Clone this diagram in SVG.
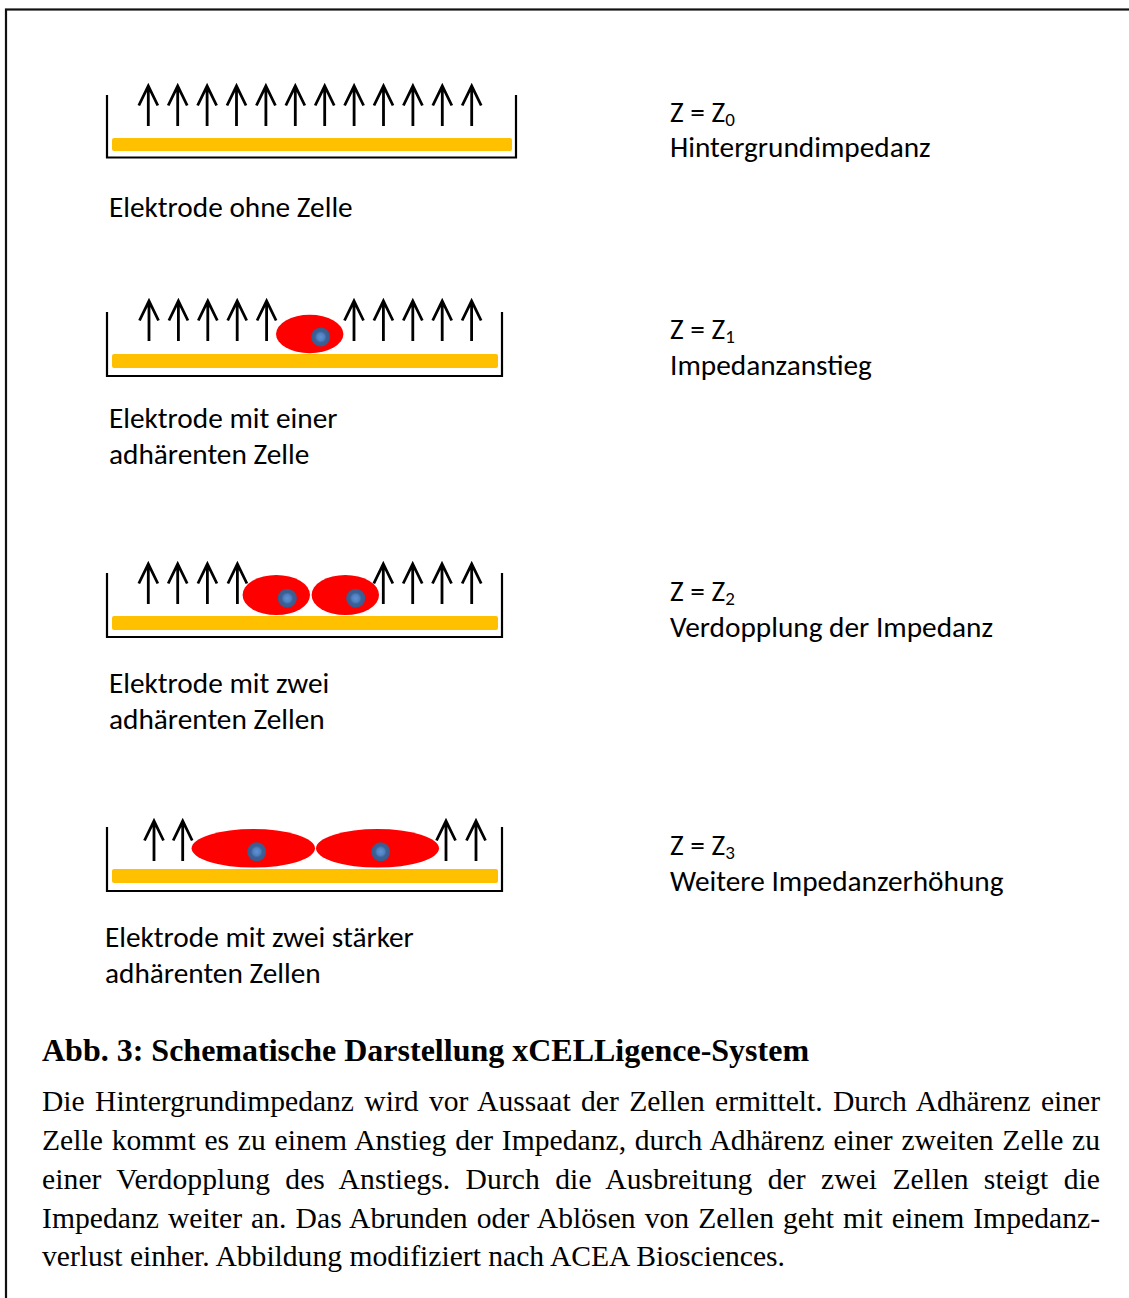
<svg xmlns="http://www.w3.org/2000/svg" xmlns:xlink="http://www.w3.org/1999/xlink" width="1129" height="1298" viewBox="0 0 1129 1298">
  <style>
    .frame { fill: none; stroke: #111; stroke-width: 2.2; }
    .well { fill: none; stroke: #000; stroke-width: 2.2; }
    .electrode { fill: #FFC000; }
    .field { fill: none; stroke: #000; stroke-width: 2.8; stroke-linecap: butt; stroke-linejoin: miter; }
    .cell { fill: #FF0000; filter: url(#soft); }
    .nucleus { fill: url(#nuc); }
    .lbl { font-family: Carlito, Lato, "Noto Sans", sans-serif; font-size: 29.3px; fill: #000; }
    .sub { font-size: 19px; }
    .title { font-family: "Liberation Serif", "Times New Roman", serif; font-weight: bold; font-size: 32px; fill: #000; }
    .body { font-family: "Liberation Serif", "Times New Roman", serif; font-size: 29.6px; fill: #000; }
  </style>
  <defs>
    <!-- field line: open arrow, origin at the shaft foot -->
    <path id="arr" class="field" d="M0,0 V-40 M-9.5,-20.5 L0,-40 L9.5,-20.5"/>
    <radialGradient id="nuc" cx="0.5" cy="0.5" r="0.5">
      <stop offset="0" stop-color="#5E92D6"/>
      <stop offset="0.4" stop-color="#4F7FBF"/>
      <stop offset="0.6" stop-color="#3D6197"/>
      <stop offset="1" stop-color="#3A5A8C"/>
    </radialGradient>
    <filter id="soft" x="-10%" y="-20%" width="120%" height="140%">
      <feGaussianBlur stdDeviation="0.7"/>
    </filter>
  </defs>

  <!-- outer frame -->
  <rect class="frame" x="6" y="9.5" width="1140" height="1300"/>

  <!-- 1: bare electrode -->
  <g id="panel-empty">
    <path class="well" d="M107,95 V157.5 H516 V95"/>
    <rect class="electrode" x="112" y="138" width="400" height="13" rx="2"/>
    <use xlink:href="#arr" x="148.3" y="126"/>
    <use xlink:href="#arr" x="177.7" y="126"/>
    <use xlink:href="#arr" x="207.1" y="126"/>
    <use xlink:href="#arr" x="236.5" y="126"/>
    <use xlink:href="#arr" x="265.9" y="126"/>
    <use xlink:href="#arr" x="295.3" y="126"/>
    <use xlink:href="#arr" x="324.7" y="126"/>
    <use xlink:href="#arr" x="354.1" y="126"/>
    <use xlink:href="#arr" x="383.5" y="126"/>
    <use xlink:href="#arr" x="412.9" y="126"/>
    <use xlink:href="#arr" x="442.3" y="126"/>
    <use xlink:href="#arr" x="471.7" y="126"/>
    <text class="lbl" x="109" y="217">Elektrode ohne Zelle</text>
    <text class="lbl" x="670" y="122">Z = Z<tspan class="sub" dy="3.5">0</tspan></text>
    <text class="lbl" x="670" y="157">Hintergrundimpedanz</text>
  </g>

  <!-- 2: one adherent cell -->
  <g id="panel-one-cell">
    <path class="well" d="M107,312 V376 H502 V312"/>
    <rect class="electrode" x="112" y="354" width="386" height="14" rx="2"/>
    <use xlink:href="#arr" x="149" y="341"/>
    <use xlink:href="#arr" x="178.4" y="341"/>
    <use xlink:href="#arr" x="207.8" y="341"/>
    <use xlink:href="#arr" x="237.2" y="341"/>
    <use xlink:href="#arr" x="266.6" y="341"/>
    <use xlink:href="#arr" x="354" y="341"/>
    <use xlink:href="#arr" x="383.4" y="341"/>
    <use xlink:href="#arr" x="412.8" y="341"/>
    <use xlink:href="#arr" x="442.2" y="341"/>
    <use xlink:href="#arr" x="471.6" y="341"/>
    <ellipse class="cell" cx="309.7" cy="334" rx="33.7" ry="19.2"/>
    <circle class="nucleus" cx="320.7" cy="337" r="9.5"/>
    <text class="lbl" x="109" y="428">Elektrode mit einer</text>
    <text class="lbl" x="109" y="464">adhärenten Zelle</text>
    <text class="lbl" x="670" y="339">Z = Z<tspan class="sub" dy="3.5">1</tspan></text>
    <text class="lbl" x="670" y="375">Impedanzanstieg</text>
  </g>

  <!-- 3: two adherent cells -->
  <g id="panel-two-cells">
    <path class="well" d="M107,573 V637 H502 V573"/>
    <rect class="electrode" x="112" y="616" width="386" height="14" rx="2"/>
    <use xlink:href="#arr" x="148.3" y="604"/>
    <use xlink:href="#arr" x="177.7" y="604"/>
    <use xlink:href="#arr" x="207.4" y="604"/>
    <use xlink:href="#arr" x="237.4" y="604"/>
    <use xlink:href="#arr" x="383.3" y="604"/>
    <use xlink:href="#arr" x="412.7" y="604"/>
    <use xlink:href="#arr" x="442" y="604"/>
    <use xlink:href="#arr" x="471.7" y="604"/>
    <ellipse class="cell" cx="276.3" cy="595" rx="33.7" ry="20"/>
    <ellipse class="cell" cx="345.3" cy="595" rx="33.7" ry="20"/>
    <circle class="nucleus" cx="287.3" cy="598.3" r="9.5"/>
    <circle class="nucleus" cx="355.7" cy="598.3" r="9.5"/>
    <text class="lbl" x="109" y="693">Elektrode mit zwei</text>
    <text class="lbl" x="109" y="729">adhärenten Zellen</text>
    <text class="lbl" x="670" y="601">Z = Z<tspan class="sub" dy="3.5">2</tspan></text>
    <text class="lbl" x="670" y="637">Verdopplung der Impedanz</text>
  </g>

  <!-- 4: two spread cells -->
  <g id="panel-spread-cells">
    <path class="well" d="M107,827 V891 H502 V827"/>
    <rect class="electrode" x="112" y="869" width="386" height="14" rx="2"/>
    <use xlink:href="#arr" x="154" y="861"/>
    <use xlink:href="#arr" x="182.7" y="861"/>
    <use xlink:href="#arr" x="446" y="861"/>
    <use xlink:href="#arr" x="476" y="861"/>
    <ellipse class="cell" cx="253.3" cy="848.3" rx="61.7" ry="19.3"/>
    <ellipse class="cell" cx="377.5" cy="848.3" rx="61.5" ry="19.3"/>
    <circle class="nucleus" cx="256.7" cy="851.7" r="9.5"/>
    <circle class="nucleus" cx="380.7" cy="851.7" r="9.5"/>
    <text class="lbl" x="105" y="947">Elektrode mit zwei stärker</text>
    <text class="lbl" x="105" y="983">adhärenten Zellen</text>
    <text class="lbl" x="670" y="855">Z = Z<tspan class="sub" dy="3.5">3</tspan></text>
    <text class="lbl" x="670" y="891">Weitere Impedanzerhöhung</text>
  </g>

  <!-- caption -->
  <g id="caption">
    <text class="title" x="42" y="1061">Abb. 3: Schematische Darstellung xCELLigence-System</text>
    <text class="body" x="42" y="1111" word-spacing="3" textLength="1058" lengthAdjust="spacing">Die Hintergrundimpedanz wird vor Aussaat der Zellen ermittelt. Durch Adhärenz einer</text>
    <text class="body" x="42" y="1150" word-spacing="1.3" textLength="1058" lengthAdjust="spacing">Zelle kommt es zu einem Anstieg der Impedanz, durch Adhärenz einer zweiten Zelle zu</text>
    <text class="body" x="42" y="1189" word-spacing="7.8" textLength="1058" lengthAdjust="spacing">einer Verdopplung des Anstiegs. Durch die Ausbreitung der zwei Zellen steigt die</text>
    <text class="body" x="42" y="1228" word-spacing="1.6" textLength="1058" lengthAdjust="spacing">Impedanz weiter an. Das Abrunden oder Ablösen von Zellen geht mit einem Impedanz-</text>
    <text class="body" x="42" y="1266">verlust einher. Abbildung modifiziert nach ACEA Biosciences.</text>
  </g>
</svg>
